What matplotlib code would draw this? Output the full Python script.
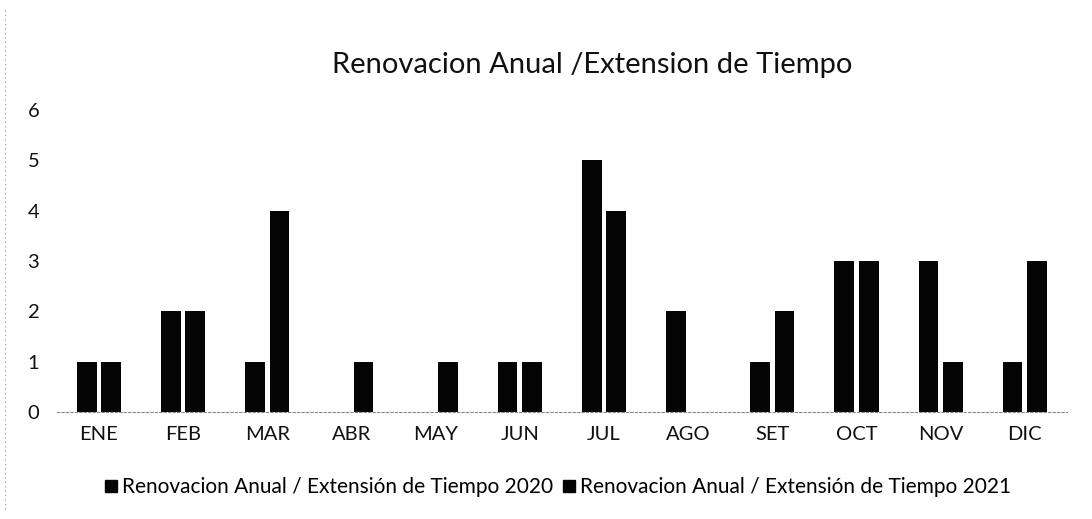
import matplotlib
matplotlib.use("Agg")
import matplotlib.pyplot as plt
import numpy as np
from matplotlib.lines import Line2D

months = ["ENE", "FEB", "MAR", "ABR", "MAY", "JUN", "JUL", "AGO", "SET", "OCT", "NOV", "DIC"]
vals_2020 = [1, 2, 1, 0, 0, 1, 5, 2, 1, 3, 3, 1]
vals_2021 = [1, 2, 4, 1, 1, 1, 4, 0, 2, 3, 1, 3]
label_2020 = "Renovacion Anual / Extensión de Tiempo 2020"
label_2021 = "Renovacion Anual / Extensión de Tiempo 2021"
title = "Renovacion Anual /Extension de Tiempo"

plt.rcParams['font.family'] = ['Lato', 'DejaVu Sans']

fig = plt.figure(figsize=(10.92, 5.19), dpi=100)
ax = fig.add_axes([0.052, 0.206, 0.925, 0.582])

x = np.arange(len(months))
w = 0.235
ax.bar(x - 0.145, vals_2020, width=w, color="#050505", label=label_2020)
ax.bar(x + 0.145, vals_2021, width=w, color="#050505", label=label_2021)

ax.set_xlim(-0.5, len(months) - 0.5)
ax.set_ylim(0, 6)
ax.set_yticks(range(7))
ax.set_xticks(x)
ax.set_xticklabels(months)
ax.tick_params(axis='both', length=0, labelsize=14.5, colors="#111111")
ax.tick_params(axis='x', pad=10)
for lbl in ax.get_yticklabels():
    lbl.set_horizontalalignment('left')
ax.tick_params(axis='y', pad=21)
for s in ["top", "right", "left"]:
    ax.spines[s].set_visible(False)
ax.spines["bottom"].set_color("#888888")
ax.spines["bottom"].set_linestyle((0, (2, 2)))
ax.spines["bottom"].set_linewidth(0.8)

fig.text(0.542, 0.875, title, ha="center", va="center", fontsize=21, color="#111111")

handles = [Line2D([], [], marker='s', linestyle='none', color="#050505", markersize=8) for _ in range(2)]
fig.legend(handles, [label_2020, label_2021], loc="center", bbox_to_anchor=(0.51, 0.062),
           ncol=2, frameon=False, fontsize=15, handletextpad=0.1, columnspacing=0.4,
           handlelength=0.8)

fig.add_artist(Line2D([0.005, 0.005], [0.02, 0.98], transform=fig.transFigure,
                      color="#999999", linestyle=(0, (1, 3)), linewidth=0.8))

fig.savefig("out.png", dpi=100, facecolor="white")
